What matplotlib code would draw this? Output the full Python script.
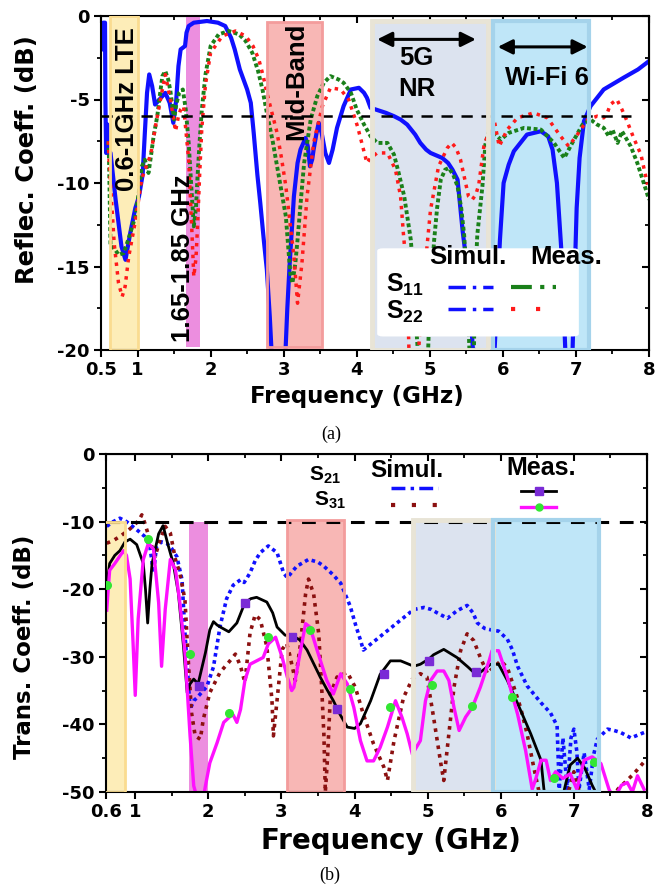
import numpy as np
import matplotlib
matplotlib.use("Agg")
import matplotlib.pyplot as plt
from matplotlib.patches import Rectangle, FancyBboxPatch
from matplotlib.lines import Line2D

plt.rcParams['font.family'] = ['DejaVu Sans']
plt.rcParams['font.weight'] = 'bold'
plt.rcParams['axes.unicode_minus'] = False
plt.rcParams['mathtext.fontset'] = 'custom'
plt.rcParams['mathtext.rm'] = 'Liberation Sans'
plt.rcParams['mathtext.bf'] = 'Liberation Sans:bold'
plt.rcParams['mathtext.default'] = 'bf'

# ---------------- (a) reflection coefficients ----------------
s11_sim_x = [0.52, 0.53, 0.555, 0.56, 0.57, 0.59, 0.61, 0.63, 0.70, 0.78, 0.835, 0.90, 0.97, 1.02, 1.07, 1.10, 1.13, 1.16,
             1.20, 1.24, 1.30, 1.38, 1.44, 1.49, 1.53, 1.56, 1.59, 1.65, 1.67, 1.70, 1.77, 1.95, 2.10, 2.20, 2.28, 2.33,
             2.40, 2.50, 2.55, 2.59, 2.64, 2.68, 2.73, 2.77, 2.81, 2.84, 3.02, 3.05, 3.08, 3.14, 3.19, 3.23, 3.30, 3.33,
             3.36, 3.39, 3.41, 3.45, 3.48, 3.52, 3.57, 3.62, 3.67, 3.73, 3.82, 3.92, 4.03, 4.10, 4.14, 4.19, 4.26, 4.40,
             4.51, 4.60, 4.69, 4.80, 4.87, 4.95, 5.01, 5.17, 5.25, 5.31, 5.38, 5.45, 5.51, 5.56, 5.60, 5.88, 5.92, 5.96,
             6.01, 6.08, 6.15, 6.33, 6.52, 6.62, 6.68, 6.74, 6.80, 6.86, 6.95, 6.98, 7.01, 7.05, 7.11, 7.20, 7.38, 7.65,
             7.85, 8.0]
s11_sim_y = [-2.0, -0.4, -0.4, -5.0, -8.2, -6.5, -8.3, -8.2, -11.0, -13.8, -14.6, -13.0, -11.5, -10.8, -9.5, -7.0, -4.6, -3.5,
             -4.2, -5.3, -5.0, -4.6, -5.2, -6.4, -5.0, -3.0, -2.0, -1.8, -1.0, -0.6, -0.4, -0.3, -0.4, -0.6, -1.3, -2.0,
             -3.2, -4.4, -5.2, -7.0, -9.5, -11.2, -13.5, -15.2, -18.0, -20.6, -20.6, -17.5, -15.0, -10.8, -8.8, -8.0, -7.3, -7.8,
             -9.0, -8.6, -8.0, -7.0, -6.4, -7.0, -8.2, -8.8, -8.0, -6.7, -5.4, -4.4, -4.3, -4.6, -4.9, -5.5, -5.6, -5.8,
             -6.0, -6.2, -6.5, -7.1, -7.6, -8.0, -8.2, -8.5, -8.8, -9.2, -9.8, -12.9, -15.0, -18.0, -20.6, -20.6, -17.0, -13.4,
             -10.0, -8.9, -8.1, -7.1, -6.9, -7.2, -8.0, -10.0, -14.0, -20.6, -20.6, -16.0, -11.5, -8.5, -6.3, -5.4, -4.4, -3.7,
             -3.2, -2.7]

s11_meas_x = [0.60, 0.61, 0.63, 0.68, 0.74, 0.81, 0.88, 0.97, 1.02, 1.06, 1.10, 1.15, 1.18, 1.22, 1.27, 1.31, 1.34, 1.38,
              1.42, 1.45, 1.50, 1.53, 1.57, 1.62, 1.66, 1.70, 1.74, 1.77, 1.80, 1.82, 1.85, 1.88, 1.93, 2.00, 2.11, 2.25,
              2.39, 2.48, 2.57, 2.65, 2.71, 2.77, 2.85, 2.91, 2.97, 3.03, 3.09, 3.12, 3.16, 3.19, 3.24, 3.28, 3.37, 3.46,
              3.55, 3.64, 3.75, 3.82, 3.92, 4.00, 4.10, 4.19, 4.28, 4.42, 4.51, 4.58, 4.65, 4.74, 4.78, 4.82, 4.85, 4.97,
              5.00, 5.06, 5.10, 5.15, 5.21, 5.26, 5.32, 5.38, 5.43, 5.47, 5.51, 5.55, 5.60, 5.62, 5.65, 5.72, 5.76, 5.80,
              5.88, 5.97, 6.08, 6.29, 6.52, 6.70, 6.84, 6.95, 7.09, 7.20, 7.29, 7.38, 7.45, 7.50, 7.57, 7.63, 7.75, 7.84,
              7.95, 8.0]
s11_meas_y = [-7.5, -8.6, -13.8, -13.9, -14.3, -14.2, -13.3, -12.0, -10.5, -9.0, -8.6, -9.4, -8.5, -7.2, -6.0, -4.6, -3.6, -3.3,
              -3.8, -4.5, -6.2, -5.3, -4.6, -4.4, -5.6, -7.6, -10.5, -12.6, -11.5, -9.7, -7.5, -5.6, -3.5, -1.8, -1.1, -0.9,
              -1.1, -1.5, -2.2, -3.3, -4.4, -5.8, -7.5, -9.0, -10.5, -12.0, -15.4, -16.0, -14.8, -13.4, -10.8, -8.8, -6.2, -4.8,
              -4.0, -3.6, -3.8, -4.0, -4.6, -5.6, -6.5, -7.2, -7.6, -7.6, -8.3, -9.5, -10.8, -13.4, -15.7, -19.0, -21.0, -21.0,
              -17.0, -13.4, -11.5, -9.8, -9.2, -9.1, -9.5, -10.2, -11.5, -13.1, -16.0, -21.0, -21.0, -16.0, -13.1, -10.2, -7.7, -7.0,
              -7.0, -7.4, -7.0, -6.7, -6.8, -7.6, -8.5, -7.6, -6.5, -6.2, -6.5, -6.7, -7.2, -6.8, -7.6, -6.9, -7.8, -8.8,
              -10.3, -11.0]

s22_meas_x = [0.60, 0.61, 0.68, 0.74, 0.79, 0.83, 0.88, 0.97, 1.06, 1.12, 1.18, 1.25, 1.34, 1.38, 1.45, 1.52, 1.56, 1.59,
              1.63, 1.70, 1.74, 1.77, 1.80, 1.82, 1.85, 1.88, 1.93, 2.00, 2.16, 2.34, 2.48, 2.58, 2.66, 2.72, 2.77, 2.84,
              2.91, 2.97, 3.03, 3.09, 3.14, 3.19, 3.25, 3.32, 3.41, 3.53, 3.64, 3.78, 3.89, 4.01, 4.14, 4.19, 4.28, 4.42,
              4.53, 4.60, 4.64, 4.69, 4.72, 4.83, 4.88, 4.92, 5.01, 5.12, 5.24, 5.30, 5.36, 5.42, 5.48, 5.53, 5.58, 5.63,
              5.67, 5.74, 5.78, 5.88, 5.95, 6.06, 6.20, 6.42, 6.61, 6.79, 6.90, 7.02, 7.16, 7.29, 7.38, 7.43, 7.47, 7.56,
              7.63, 7.70, 7.79, 7.89, 7.98]
s22_meas_y = [-7.5, -8.6, -13.6, -16.0, -16.8, -16.2, -14.4, -12.3, -9.7, -9.0, -8.3, -6.5, -4.4, -3.5, -5.0, -6.9, -6.0, -5.6,
              -5.4, -8.6, -12.5, -15.6, -14.5, -12.7, -9.5, -6.7, -4.1, -2.2, -1.2, -0.9, -1.2, -1.8, -2.6, -3.6, -4.6, -5.8,
              -7.0, -8.5, -10.2, -12.5, -14.4, -17.2, -14.8, -10.8, -7.6, -5.4, -4.3, -4.4, -5.0, -6.6, -8.8, -8.5, -8.2, -8.2,
              -9.2, -10.8, -13.1, -15.6, -21.0, -21.0, -18.0, -15.7, -11.6, -9.0, -7.9, -7.6, -7.9, -8.6, -9.8, -10.8, -11.0, -10.7,
              -10.1, -7.8, -7.3, -6.2, -7.8, -6.8, -6.1, -5.8, -6.1, -7.2, -7.8, -7.1, -6.2, -6.0, -6.1, -5.8, -5.3, -5.0,
              -5.6, -6.3, -7.3, -8.3, -10.1]

threshold_a = -6
bands_a_name = ['LTE', 'GSM', 'MID', 'NR', 'WIFI']
bands_a_lo = [0.63, 1.66, 2.77, 4.21, 5.86]
bands_a_hi = [1.00, 1.86, 3.52, 5.79, 7.18]
bands_a_top = [0.0, 0.0, -0.35, -0.3, -0.3]
bands_a_bot = [-20, -19.8, -19.8, -20, -20]

# ---------------- (b) transmission coefficients ----------------
s21_sim_x = [0.61, 0.70, 0.79, 0.88, 1.02, 1.13, 1.20, 1.25, 1.29, 1.36, 1.43, 1.50, 1.57, 1.64, 1.68, 1.73, 1.75, 1.80,
             1.84, 1.98, 2.07, 2.16, 2.25, 2.34, 2.44, 2.49, 2.57, 2.64, 2.71, 2.82, 2.94, 3.03, 3.08, 3.14, 3.21, 3.37,
             3.50, 3.58, 3.70, 3.81, 3.94, 4.02, 4.08, 4.12, 4.20, 4.35, 4.58, 4.81, 4.95, 5.05, 5.13, 5.27, 5.40, 5.54,
             5.62, 5.68, 5.78, 5.86, 5.97, 6.09, 6.16, 6.23, 6.36, 6.55, 6.68, 6.77, 6.80, 6.85, 6.91, 6.96, 7.00, 7.04,
             7.07, 7.14, 7.21, 7.27, 7.32, 7.46, 7.55, 7.64, 7.78, 7.96]
s21_sim_y = [-10.7, -10.0, -9.5, -10.0, -11.2, -12.2, -13.7, -17.6, -13.7, -13.0, -13.2, -14.0, -15.2, -18.6, -26.5, -34.4, -37.8, -36.5,
             -36.1, -34.4, -31.5, -25.5, -21.4, -19.4, -18.6, -19.0, -17.6, -15.8, -14.6, -13.6, -14.6, -17.6, -18.3, -17.5, -16.6, -15.6,
             -16.0, -16.6, -17.8, -19.1, -22.5, -25.5, -27.5, -29.0, -28.3, -27.0, -25.0, -23.0, -22.7, -23.0, -23.5, -24.3, -23.2, -22.4,
             -23.5, -25.0, -25.8, -26.0, -26.2, -27.4, -29.0, -31.4, -34.3, -36.8, -38.3, -40.2, -49.6, -42.0, -49.6, -42.0, -40.7, -44.0,
             -49.6, -44.2, -49.6, -44.5, -42.2, -40.7, -40.9, -41.2, -42.0, -41.2]

s21_meas_x = [0.61, 0.65, 0.72, 0.79, 0.86, 0.93, 1.02, 1.11, 1.14, 1.17, 1.20, 1.23, 1.32, 1.38, 1.45, 1.52, 1.59, 1.66,
              1.71, 1.75, 1.80, 1.86, 1.96, 2.02, 2.07, 2.12, 2.18, 2.28, 2.39, 2.50, 2.58, 2.66, 2.80, 2.88, 2.94, 3.05,
              3.17, 3.25, 3.35, 3.44, 3.53, 3.62, 3.71, 3.80, 3.90, 4.00, 4.08, 4.22, 4.35, 4.49, 4.63, 4.81, 4.90, 5.02,
              5.08, 5.22, 5.40, 5.55, 5.63, 5.72, 5.86, 5.97, 6.09, 6.23, 6.41, 6.55, 6.59, 6.62, np.nan,
              6.85, 6.95, 7.05, 7.15, 7.25, 7.32]
s21_meas_y = [-19.5, -16.2, -15.0, -14.3, -13.0, -12.6, -13.4, -16.2, -20.0, -25.0, -20.0, -16.2, -11.8, -10.6, -13.5, -16.2, -20.6, -28.5,
              -35.3, -34.0, -33.3, -34.0, -29.4, -26.0, -24.8, -25.3, -25.7, -26.3, -25.0, -22.0, -21.4, -21.2, -21.9, -23.5, -25.6, -26.8,
              -27.0, -27.5, -29.0, -31.0, -33.0, -34.8, -36.5, -38.5, -40.4, -40.6, -39.9, -36.5, -32.6, -30.6, -30.6, -31.4, -31.1, -30.3,
              -29.7, -28.9, -30.1, -31.5, -32.3, -32.3, -31.1, -31.1, -33.5, -36.9, -41.4, -45.3, -49.6, -51.0, np.nan,
              -50.5, -46.0, -45.0, -46.5, -49.0, -50.5]

s31_sim_x = [0.61, 0.70, 0.79, 0.88, 0.97, 1.05, 1.09, 1.13, 1.20, 1.27, 1.34, 1.41, 1.48, 1.55, 1.61, 1.68, 1.73, 1.77,
             1.82, 1.89, 1.93, 2.02, 2.16, 2.28, 2.37, 2.44, 2.50, 2.57, 2.64, 2.71, 2.80, 2.87, 2.89, 2.94, 3.01, 3.07,
             3.11, 3.19, 3.26, 3.33, 3.37, 3.44, 3.51, 3.55, 3.58, 3.60, 3.63, 3.67, 3.76, 3.90, 4.01, 4.12, 4.26, 4.40,
             4.45, 4.54, 4.67, 4.79, 4.90, 4.99, 5.08, 5.18, 5.22, 5.29, 5.36, 5.45, 5.54, 5.63, 5.72, 5.82, 5.86, 6.00,
             6.09, 6.18, 6.27, 6.36, 6.45, 6.52, 6.55, np.nan, 6.90, 7.00, 7.10, np.nan, 7.55, 7.60, 7.82, 7.98]
s31_sim_y = [-13.2, -12.8, -12.2, -11.5, -10.7, -9.8, -9.0, -10.2, -12.7, -15.2, -12.7, -10.7, -11.7, -15.6, -17.6, -21.6, -31.4, -38.3,
             -41.7, -42.2, -39.3, -35.3, -32.3, -30.8, -29.6, -31.4, -33.8, -26.5, -23.8, -24.5, -28.5, -36.4, -41.7, -36.4, -28.9, -28.0,
             -29.6, -33.5, -28.1, -20.7, -18.5, -20.7, -26.6, -34.5, -41.4, -50.0, -45.0, -35.5, -33.0, -32.3, -34.5, -38.5, -42.9, -46.3,
             -48.3, -42.4, -36.0, -33.3, -32.5, -33.0, -38.9, -45.8, -48.3, -41.4, -34.5, -29.1, -26.6, -27.6, -30.1, -32.5, -32.0, -30.6,
             -31.6, -34.5, -37.5, -41.4, -46.3, -49.8, -51.0, np.nan, -51.0, -47.0, -51.0, np.nan, -51.0, -49.6, -47.3, -45.3]

s31_meas_x = [0.61, 0.63, 0.65, 0.72, 0.84, 0.88, 0.93, 0.97, 1.00, 1.04, 1.11, 1.18, 1.25, 1.32, 1.36, 1.41, 1.48, 1.55,
              1.61, 1.68, 1.75, 1.80, 1.85, 1.93, 1.96, 2.02, 2.12, 2.21, 2.30, 2.34, 2.39, 2.44, 2.50, 2.57, 2.66, 2.75,
              2.82, 2.92, 3.01, 3.08, 3.14, 3.17, 3.26, 3.33, 3.39, 3.49, 3.62, 3.71, 3.81, 3.90, 3.99, 4.08, 4.17, 4.26,
              4.35, 4.45, 4.56, 4.65, 4.72, 4.79, 4.90, 4.97, 5.04, 5.13, 5.22, 5.29, 5.36, 5.43, 5.52, 5.61, 5.72, 5.84,
              5.88, 5.97, 6.09, 6.23, 6.34, 6.43, 6.48, 6.55, 6.62, 6.68, 6.75, 6.85, 6.95, 7.04, 7.14, 7.25, 7.37, 7.48,
              7.55, 7.65, 7.73, 7.80, 7.87, 7.96]
s31_meas_y = [-23.1, -20.0, -17.2, -16.2, -14.3, -15.0, -18.5, -27.9, -35.7, -24.4, -15.6, -13.2, -14.1, -22.0, -31.4, -23.0, -15.6, -17.1,
              -22.0, -29.4, -41.7, -49.1, -51.0, -51.0, -49.1, -45.7, -42.7, -39.7, -38.8, -38.6, -39.7, -37.8, -33.5, -31.1, -30.6, -30.1,
              -28.1, -27.1, -30.1, -33.0, -35.0, -34.5, -29.1, -25.1, -25.6, -29.1, -33.5, -35.5, -32.5, -34.0, -37.5, -42.4, -45.4, -45.4,
              -43.4, -40.4, -36.5, -39.0, -41.4, -44.4, -42.4, -36.5, -33.5, -32.1, -32.1, -33.5, -37.5, -40.9, -38.9, -37.5, -34.5, -30.6,
              -29.1, -29.1, -33.0, -38.5, -43.9, -49.6, -48.0, -45.3, -45.3, -48.3, -47.0, -48.0, -47.3, -49.6, -45.3, -44.8, -45.8, -49.6,
              -51.0, -49.0, -48.6, -50.0, -47.6, -49.6]

s21_mark_x = [1.87, 2.50, 3.14, 3.76, 4.40, 5.02, 5.66]
s21_mark_y = [-34.3, -22.0, -27.0, -37.7, -32.6, -30.6, -32.3]
s31_mark_x = [0.61, 1.18, 1.75, 2.28, 2.82, 3.39, 3.94, 4.49, 5.06, 5.61, 6.16, 6.73, 7.27]
s31_mark_y = [-19.4, -12.5, -29.6, -38.3, -27.1, -26.0, -34.8, -37.4, -34.1, -37.3, -36.0, -47.9, -45.6]

threshold_b = -10
bands_b_name = ['LTE', 'GSM', 'MID', 'NR', 'WIFI']
bands_b_lo = [0.55, 1.74, 3.08, 4.80, 5.90]
bands_b_hi = [0.86, 2.00, 3.85, 5.90, 7.34]
bands_b_top = [-10.0, -10.0, -9.8, -9.8, -9.8]
bands_b_bot = [-50, -50, -50, -50, -50]

band_fill = {'LTE': '#FDEDB8', 'GSM': '#EC8EDF', 'MID': '#F8B7B5', 'NR': '#DCE3EF', 'WIFI': '#BFE6F8'}
band_edge = {'LTE': '#FADC90', 'GSM': '#EC8EDF', 'MID': '#F39C9C', 'NR': '#E8E4D6', 'WIFI': '#A5D3EB'}
band_lw = {'LTE': 2.0, 'GSM': 0.0, 'MID': 2.0, 'NR': 3.5, 'WIFI': 3.0}

BLUE = '#1010FF'
GREEN = '#1A801A'
RED = '#FF1A1A'
BROWN = '#8B1010'
MAGENTA = '#FF10FF'

fig = plt.figure(figsize=(6.64, 8.85), dpi=100)
axA = fig.add_axes([101/664, 1-350/885, 548/664, 334/885])
axB = fig.add_axes([106/664, 1-792/885, 541/664, 338/885])


def style_axes(ax, xticks, xlabels, yticks, ymin_step):
    for s in ax.spines.values():
        s.set_linewidth(1.5)
    ax.set_xticks(xticks)
    ax.set_xticklabels(xlabels)
    ax.set_yticks(yticks)
    ax.set_yticklabels([str(int(v)) for v in yticks])
    ax.xaxis.set_minor_locator(matplotlib.ticker.MultipleLocator(0.5))
    ax.yaxis.set_minor_locator(matplotlib.ticker.MultipleLocator(ymin_step))
    ax.tick_params(which='major', direction='out', length=5, width=1.5, labelsize=13, pad=3)
    ax.tick_params(which='minor', direction='out', length=3, width=1.3)
    top = ax.secondary_xaxis('top')
    top.set_xticks(xticks)
    top.xaxis.set_minor_locator(matplotlib.ticker.MultipleLocator(0.5))
    top.tick_params(which='major', direction='in', length=5, width=1.5, labeltop=False)
    top.tick_params(which='minor', direction='in', length=3, width=1.3)
    right = ax.secondary_yaxis('right')
    right.set_yticks(yticks)
    right.yaxis.set_minor_locator(matplotlib.ticker.MultipleLocator(ymin_step))
    right.tick_params(which='major', direction='in', length=5, width=1.5, labelright=False)
    right.tick_params(which='minor', direction='in', length=3, width=1.3)
    for t in ax.get_xticklabels() + ax.get_yticklabels():
        t.set_fontweight('bold')


def draw_bands(ax, names, lo, hi, top, bot):
    for n, a, b, t, u in zip(names, lo, hi, top, bot):
        ax.add_patch(Rectangle((a, u), b - a, t - u, facecolor=band_fill[n], edgecolor='none', zorder=0.5))
        if band_lw[n] > 0:
            ax.add_patch(Rectangle((a, u), b - a, t - u, facecolor='none', edgecolor=band_edge[n],
                                   linewidth=band_lw[n], zorder=3))


# ---------- panel (a) ----------
ax = axA
ax.set_xlim(0.5, 8)
ax.set_ylim(-20, 0)
draw_bands(ax, bands_a_name, bands_a_lo, bands_a_hi, bands_a_top, bands_a_bot)
ax.plot(s11_sim_x, s11_sim_y, color=BLUE, lw=3.0, zorder=2, solid_joinstyle='round')
ax.plot(s11_meas_x, s11_meas_y, color=GREEN, lw=2.8, ls=(0, (1, 0.7)), zorder=2.1)
ax.plot(s22_meas_x, s22_meas_y, color=RED, lw=2.5, ls=(0, (1, 1.5)), zorder=2.2)
ax.hlines(threshold_a, 0.5, 7.75, colors='black', linestyles=(0, (4.5, 3.5)), lw=1.8, zorder=2.5)
style_axes(ax, [0.5, 1, 2, 3, 4, 5, 6, 7, 8], ['0.5', '1', '2', '3', '4', '5', '6', '7', '8'],
           [0, -5, -10, -15, -20], 2.5)
ax.set_xlabel('Frequency (GHz)', fontsize=16.5, fontweight='bold')
ax.xaxis.set_label_coords(0.467, -0.14)
ax.xaxis.label.set_va('center')
ax.set_ylabel('Reflec. Coeff. (dB)', fontsize=17.5, fontweight='bold')
ax.yaxis.set_label_coords(-0.135, 0.57)
ax.yaxis.label.set_va('center')

lab_kw = dict(family='Liberation Sans', fontweight='bold', rotation=90, ha='center', va='center', zorder=6)
ax.text(0.85, -5.6, '0.6-1GHz LTE', fontsize=18.5, **lab_kw)
ax.text(1.62, -14.5, '1.65-1.85 GHz', fontsize=18.5, **lab_kw)
ax.text(3.17, -3.9, 'Mid-Band', fontsize=18.5, **lab_kw)
ax.text(4.81, -2.5, '5G', fontsize=18.5, family='Liberation Sans', fontweight='bold', ha='center', va='center', zorder=6)
ax.text(4.82, -4.4, 'NR', fontsize=18.5, family='Liberation Sans', fontweight='bold', ha='center', va='center', zorder=6)
ax.text(6.60, -3.7, 'Wi-Fi 6', fontsize=18.5, family='Liberation Sans', fontweight='bold', ha='center', va='center', zorder=6)
ax.annotate('', xy=(5.63, -1.4), xytext=(4.28, -1.4),
            arrowprops=dict(arrowstyle='<|-|>', lw=2.2, color='black', mutation_scale=22, shrinkA=0, shrinkB=0), zorder=6)
ax.annotate('', xy=(7.16, -1.85), xytext=(5.93, -1.85),
            arrowprops=dict(arrowstyle='<|-|>', lw=2.2, color='black', mutation_scale=22, shrinkA=0, shrinkB=0), zorder=6)

# legend box (a)
ax.add_patch(FancyBboxPatch((4.30, -19.15), 2.72, 5.2, boxstyle='round,pad=0.02,rounding_size=0.08',
                            facecolor='white', edgecolor='none', zorder=4, mutation_aspect=2))
ax.text(5.52, -14.45, 'Simul.', fontsize=18.5, family='Liberation Sans', fontweight='bold', ha='center', va='center', zorder=6)
ax.text(6.86, -14.45, 'Meas.', fontsize=18.5, family='Liberation Sans', fontweight='bold', ha='center', va='center', zorder=6)
ax.text(4.40, -16.1, r'$S_{11}$', fontsize=18, ha='left', va='center', zorder=6)
ax.text(4.40, -17.7, r'$S_{22}$', fontsize=18, ha='left', va='center', zorder=6)
hA = [Line2D([], [], color=BLUE, lw=2.5, ls=(0, (5, 2, 1, 2))),
      Line2D([], [], color=BLUE, lw=2.5, ls=(0, (5, 2, 1, 2))),
      Line2D([], [], color=GREEN, lw=3.0, ls=(0, (5, 2, 1, 2))),
      Line2D([], [], color=RED, lw=3.0, ls=(0, (1, 5)))]
legA = ax.legend(hA, [' '] * 4, ncol=2, loc='center', bbox_to_anchor=(6.02, -16.95), bbox_transform=ax.transData,
                 frameon=False, fontsize=10, handlelength=3.2, handletextpad=0.0, columnspacing=1.0,
                 labelspacing=0.55, borderpad=0)
legA.set_zorder(6)

# ---------- panel (b) ----------
ax = axB
ax.set_xlim(0.6, 8)
ax.set_ylim(-50, 0)
draw_bands(ax, bands_b_name, bands_b_lo, bands_b_hi, bands_b_top, bands_b_bot)
ax.plot(s21_sim_x, s21_sim_y, color=BLUE, lw=2.6, ls=(0, (1, 1.0)), zorder=2)
ax.plot(s31_sim_x, s31_sim_y, color=BROWN, lw=2.6, ls=(0, (1, 1.4)), zorder=2.1)
ax.plot(s21_meas_x, s21_meas_y, color='black', lw=2.0, zorder=2.2)
ax.plot(s31_meas_x, s31_meas_y, color=MAGENTA, lw=2.4, zorder=2.3)
ax.plot(s21_mark_x, s21_mark_y, ls='none', marker='s', ms=5.5, color='#7A2BD6', zorder=2.6)
ax.plot(s31_mark_x, s31_mark_y, ls='none', marker='o', ms=5.5, color='#33E633', zorder=2.7)
ax.hlines(threshold_b, 0.6, 8, colors='black', linestyles=(0, (4.5, 3.5)), lw=2.2, zorder=2.5)
style_axes(ax, [0.6, 1, 2, 3, 4, 5, 6, 7, 8], ['0.6', '1', '2', '3', '4', '5', '6', '7', '8'],
           [0, -10, -20, -30, -40, -50], 5)
ax.set_xlabel('Frequency (GHz)', fontsize=20, fontweight='bold')
ax.xaxis.set_label_coords(0.527, -0.145)
ax.xaxis.label.set_va('center')
ax.set_ylabel('Trans. Coeff. (dB)', fontsize=16.5, fontweight='bold')
ax.yaxis.set_label_coords(-0.15, 0.43)
ax.yaxis.label.set_va('center')

ax.text(3.37, -3.1, r'$S_{21}$', fontsize=15, ha='left', va='center', zorder=6)
ax.text(3.44, -6.8, r'$S_{31}$', fontsize=15, ha='left', va='center', zorder=6)
ax.text(4.72, -2.4, 'Simul.', fontsize=17.5, family='Liberation Sans', fontweight='bold', ha='center', va='center', zorder=6)
ax.text(6.55, -2.1, 'Meas.', fontsize=18, family='Liberation Sans', fontweight='bold', ha='center', va='center', zorder=6)
hB1 = [Line2D([], [], color=BLUE, lw=2.5, ls=(0, (4, 1.5, 1, 1.5))),
       Line2D([], [], color=BROWN, lw=3.0, ls=(0, (1, 4)))]
legB1 = ax.legend(hB1, [' '] * 2, loc='center', bbox_to_anchor=(4.85, -6.4), bbox_transform=ax.transData,
                  frameon=False, fontsize=10, handlelength=3.4, handletextpad=0.0, labelspacing=0.25, borderpad=0)
ax.add_artist(legB1)
hB2 = [Line2D([], [], color='black', lw=2.0, marker='s', ms=6, markerfacecolor='#7A2BD6', markeredgecolor='#7A2BD6'),
       Line2D([], [], color=MAGENTA, lw=2.4, marker='o', ms=5, markerfacecolor='#33E633', markeredgecolor='#33E633')]
legB2 = ax.legend(hB2, [' '] * 2, loc='center', bbox_to_anchor=(6.55, -6.8), bbox_transform=ax.transData,
                  frameon=False, fontsize=10, handlelength=2.5, handletextpad=0.0, labelspacing=0.15, borderpad=0)

fig.text(331/664, 1-434/885, '(a)', family='Liberation Serif', fontweight='normal', fontsize=13, ha='center', va='center')
fig.text(330/664, 1-875/885, '(b)', family='Liberation Serif', fontweight='normal', fontsize=13, ha='center', va='center')

fig.savefig('out.png', dpi=100, facecolor='white')
